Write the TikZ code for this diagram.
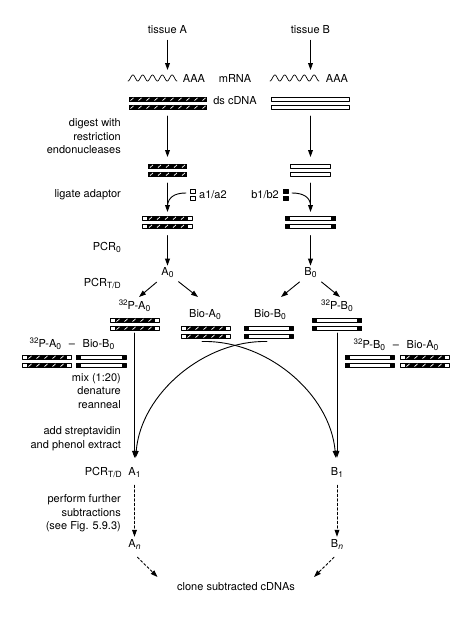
\documentclass[tikz,border=0pt]{standalone}
\usepackage{fontspec}
\setmainfont{TeX Gyre Heros}
\usetikzlibrary{arrows.meta}

\newcommand{\lowr}[1]{\raisebox{-0.35ex}{\fontsize{8.5}{10}\selectfont#1}}
\newcommand{\highr}[1]{\raisebox{0.75ex}{\fontsize{8}{10}\selectfont#1}}
\newcommand{\hatchbar}[3]{%
  \fill (#1,#3) rectangle (#2,#3+4.5);
  \begin{scope}
    \clip (#1+0.9,#3+0.9) rectangle (#2-0.9,#3+3.6);
    \foreach \s in {0,8,...,88}
      \draw[white,line width=0.7pt,line cap=butt] ({#1+\s+2},{#3+3.6}) -- ({#1+\s+5},{#3+0.9});
  \end{scope}}
\newcommand{\openbar}[3]{\draw[strandline,fill=white] (#1,#3) rectangle (#2,#3+4.5);}
\newcommand{\capAbar}[3]{%
  \draw[strandline,fill=white] (#1,#3) rectangle (#2,#3+4.5);
  \hatchbar{#1+4.5}{#2-4.5}{#3}}
\newcommand{\capBbar}[3]{%
  \draw[strandline,fill=white] (#1,#3) rectangle (#2,#3+4.5);
  \fill (#1,#3) rectangle (#1+4.5,#3+4.5);
  \fill (#2-4.5,#3) rectangle (#2,#3+4.5);}
\newcommand{\dsbar}[5]{%
  #1{#2-#3/2}{#2+#3/2}{#4}
  #1{#2-#3/2}{#2+#3/2}{#4+8}
  \node[strand,minimum width=#3] (#5) at (#2,#4+6.25) {};}
\newcommand{\mwave}[2]{%
  \draw[line width=0.7pt] plot[domain=0:31.416,samples=150,variable=\ph] ({#1+\ph*49/31.416},{#2+3*cos(\ph r)});}

\tikzset{
  strandline/.style={line width=0.6pt},
  strand/.style={inner sep=0pt,outer sep=0pt,minimum height=12.5pt},
  arr/.style={-{Triangle[length=7pt,width=4.8pt]},line width=0.9pt},
  dasharr/.style={arr,dash pattern=on 2.5pt off 2pt},
  side/.style={anchor=east,align=right,inner sep=0pt},
  every node/.append style={inner sep=0pt}
}

\begin{document}
\begin{tikzpicture}[line cap=round,line join=round,x=1pt,y=-1pt,font=\fontsize{11}{13.5}\selectfont]
\useasboundingbox (0,0) rectangle (474,621);

\node (tisA) at (167.5,30) {tissue A};
\node (tisB) at (310.5,30) {tissue B};

\mwave{128}{78}
\mwave{270}{78}
\node[strand,minimum width=49,minimum height=6] (rnaA) at (152.5,78) {};
\node[strand,minimum width=49,minimum height=6] (rnaB) at (294.5,78) {};
\node (aaaA) at (194,78) {AAA};
\node (mrna) at (235,78) {mRNA};
\node (aaaB) at (337,78) {AAA};

\dsbar{\hatchbar}{167.5}{78}{97}{cdnaA}
\dsbar{\openbar}{310.5}{78}{97}{cdnaB}
\node (dscdna) at (235,101) {ds cDNA};

\dsbar{\hatchbar}{167.5}{39}{164}{digA}
\dsbar{\openbar}{310.5}{40}{164}{digB}

\draw[strandline,fill=white] (190,189) rectangle ++(5,4.5) (190,196) rectangle ++(5,4.5);
\draw[strandline,fill=black] (283,189) rectangle ++(5,4.5) (283,196) rectangle ++(5,4.5);
\node[anchor=west] (a12) at (199,195) {a1/a2};
\node[anchor=east] (b12) at (279,195) {b1/b2};
\coordinate (adA) at (186,193);
\coordinate (adB) at (292,193);

\dsbar{\capAbar}{167.5}{50}{216}{adpA}
\dsbar{\capBbar}{310.5}{50}{216}{adpB}

\node (A0) at (167.5,273) {A\lowr{0}};
\node (B0) at (310.5,273) {B\lowr{0}};

\node (pA) at (134.5,306) {\highr{32}P-A\lowr{0}};
\node (bioA) at (205,315) {Bio-A\lowr{0}};
\node (bioB) at (270,315) {Bio-B\lowr{0}};
\node (pB) at (337,306) {\highr{32}P-B\lowr{0}};
\coordinate (hA1) at (139,297);
\coordinate (hA2) at (198,297);
\coordinate (hB1) at (281,297);
\coordinate (hB2) at (340,297);

\dsbar{\capAbar}{134.5}{49}{318}{pAbar}
\dsbar{\capAbar}{205.5}{49}{326}{bioAbar}
\dsbar{\capBbar}{268.5}{49}{326}{bioBbar}
\dsbar{\capBbar}{337}{49}{318}{pBbar}

\node (mixL) at (72,344) {\highr{32}P-A\lowr{0}\hspace{0.7em}--\hspace{0.7em}Bio-B\lowr{0}};
\node (mixR) at (396,345) {\highr{32}P-B\lowr{0}\hspace{0.7em}--\hspace{0.7em}Bio-A\lowr{0}};
\dsbar{\capAbar}{46.5}{49}{355}{mixpA}
\dsbar{\capBbar}{101}{50}{355}{mixbioB}
\dsbar{\capBbar}{369.5}{49}{355}{mixpB}
\dsbar{\capAbar}{424.5}{49}{355}{mixbioA}

\node (A1) at (134.5,472) {A\lowr{1}};
\node (B1) at (337,472) {B\lowr{1}};
\node (An) at (134.5,544) {A\lowr{\itshape n}};
\node (Bn) at (337,544) {B\lowr{\itshape n}};
\node (clone) at (236,587) {clone subtracted cDNAs};
\coordinate (cA) at (157.5,577);
\coordinate (cB) at (314,577);

\node[side] (digest) at (121,136.5) {digest with\\restriction\\endonucleases};
\node[side] (ligate) at (121,195) {ligate adaptor};
\node[side] (pcr0) at (121,247) {PCR\lowr{0}};
\node[side] (pcrtd) at (121,283) {PCR\lowr{T/D}};
\node[side] (mix) at (121,391) {mix (1:20)\\denature\\reanneal};
\node[side] (strep) at (121,438.5) {add streptavidin\\and phenol extract};
\node[side] (pcrtd2) at (122,472) {PCR\lowr{T/D}};
\node[side] (further) at (121,513.5) {perform further\\subtractions\\(see Fig. 5.9.3)};

\draw[arr,shorten <=6pt,shorten >=5pt] (tisA) -- (tisA |- rnaA.north);
\draw[arr,shorten <=6pt,shorten >=5pt] (tisB) -- (tisB |- rnaB.north);
\draw[arr,shorten <=6.5pt,shorten >=7pt] (cdnaA) -- (digA);
\draw[arr,shorten <=6.5pt,shorten >=7pt] (cdnaB) -- (digB);
\draw[arr,shorten <=6.5pt,shorten >=4pt] (digA) -- (adpA);
\draw[arr,shorten <=6.5pt,shorten >=4pt] (digB) -- (adpB);
\draw[line width=0.9pt] (adA) .. controls (175,193) and (168,197) .. (167.5,206);
\draw[line width=0.9pt] (adB) .. controls (303,193) and (310.5,197) .. (310.5,206);
\draw[arr,shorten <=7pt,shorten >=2pt] (adpA) -- (A0);
\draw[arr,shorten <=7pt,shorten >=2pt] (adpB) -- (B0);
\draw[arr,shorten <=6pt] (A0) -- (hA1);
\draw[arr,shorten <=6pt] (A0) -- (hA2);
\draw[arr,shorten <=6pt] (B0) -- (hB1);
\draw[arr,shorten <=6pt] (B0) -- (hB2);

\draw[arr,shorten <=2.5pt,shorten >=9pt] (pAbar) -- (A1);
\draw[arr,shorten <=2.5pt,shorten >=9pt] (pBbar) -- (B1);
\draw[arr,shorten >=9pt] ([xshift=-1.5pt,yshift=-3pt]bioBbar.south) .. controls (205,340) and (141,393) .. (A1);
\draw[arr,shorten >=9pt] ([xshift=-3.5pt,yshift=-3pt]bioAbar.south) .. controls (266,340) and (330,393) .. (B1);

\draw[dasharr,shorten <=8pt,shorten >=2pt] (A1) -- (An);
\draw[dasharr,shorten <=8pt,shorten >=2pt] (B1) -- (Bn);
\draw[dasharr] ([xshift=3pt,yshift=-8pt]An.south) -- (cA);
\draw[dasharr] ([xshift=-3pt,yshift=-8pt]Bn.south) -- (cB);
\end{tikzpicture}
\end{document}
